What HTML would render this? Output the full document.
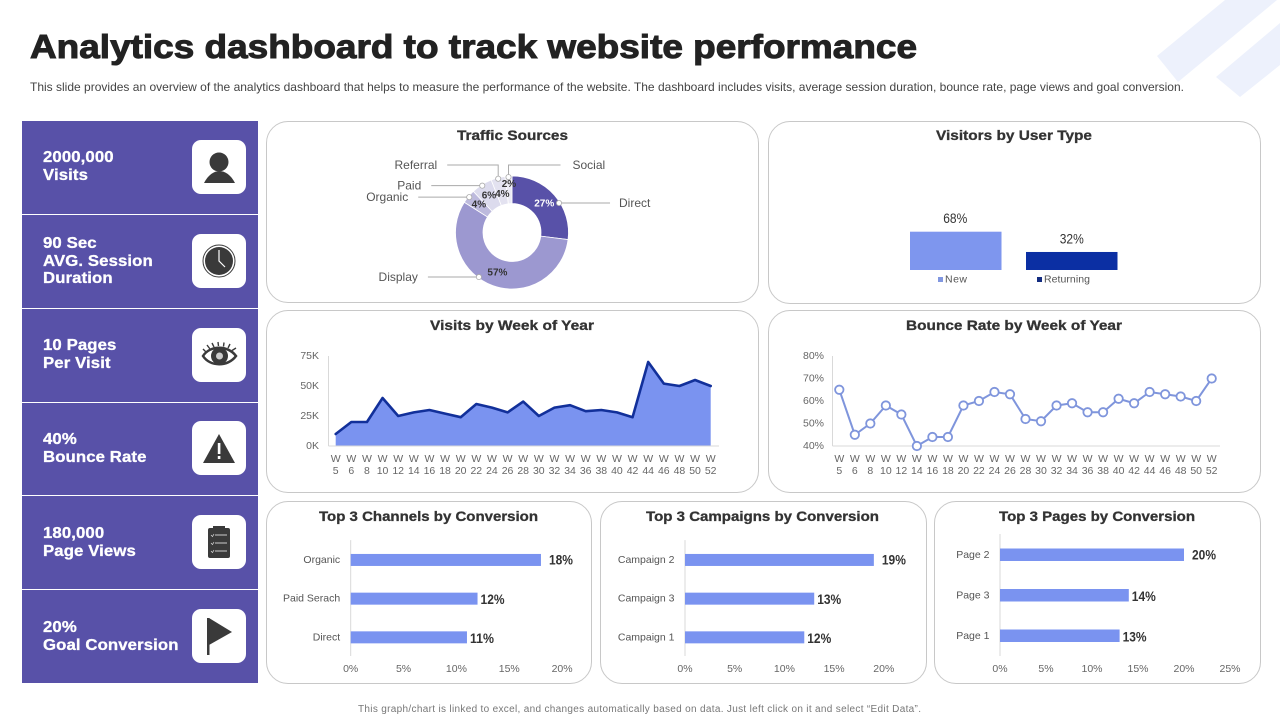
<!DOCTYPE html>
<html lang="en">
<head>
<meta charset="utf-8">
<title>Analytics dashboard to track website performance</title>
<style>
html,body{margin:0;padding:0;background:#fff;}
#page{position:relative;width:1280px;height:720px;overflow:hidden;background:#fff;font-family:"Liberation Sans",sans-serif;}
.panel{position:absolute;box-sizing:border-box;border:1px solid #c8c8c8;border-radius:22px;background:#fff;}
.tile{position:absolute;left:22px;width:236px;background:#5851a8;}
.kpi{position:absolute;left:21px;color:#fff;font-weight:bold;font-size:15.5px;line-height:17.5px;letter-spacing:.1px;-webkit-text-stroke:.3px #fff;white-space:nowrap;transform:scaleX(1.08);transform-origin:left top;}
.icon{position:absolute;left:170px;width:54px;height:54px;background:#fff;border-radius:9px;}
.icon svg{display:block;}
#charts{position:absolute;left:0;top:0;}
#charts text{font-family:"Liberation Sans",sans-serif;}
</style>
</head>
<body>
<div id="page">
  <div class="panel" style="left:266px;top:121px;width:493px;height:182px"></div>
  <div class="panel" style="left:768px;top:121px;width:493px;height:183px"></div>
  <div class="panel" style="left:266px;top:310px;width:493px;height:183px"></div>
  <div class="panel" style="left:768px;top:310px;width:493px;height:183px"></div>
  <div class="panel" style="left:266px;top:501px;width:326px;height:183px"></div>
  <div class="panel" style="left:600px;top:501px;width:327px;height:183px"></div>
  <div class="panel" style="left:934px;top:501px;width:327px;height:183px"></div>

  <div class="tile" style="top:121px;height:93px">
    <div class="kpi" style="top:28px">2000,000<br>Visits</div>
    <div class="icon" style="top:19px">
      <svg width="54" height="54" viewBox="0 0 54 54"><circle cx="27" cy="22" r="9.5" fill="#3a3a3a"/><path d="M12 43 C16 35 22 31 27.500 31 C33 31 39 35 43 43 Z" fill="#3a3a3a"/></svg>
    </div>
  </div>
  <div class="tile" style="top:215px;height:93px">
    <div class="kpi" style="top:20px">90 Sec<br>AVG. Session<br>Duration</div>
    <div class="icon" style="top:19px">
      <svg width="54" height="54" viewBox="0 0 54 54"><circle cx="27" cy="27" r="16" fill="#fff" stroke="#3a3a3a" stroke-width="1"/><circle cx="27" cy="27" r="14" fill="#3a3a3a"/><path d="M27 16 V27 L33 33" fill="none" stroke="#fff" stroke-width="1.2"/></svg>
    </div>
  </div>
  <div class="tile" style="top:309px;height:93px">
    <div class="kpi" style="top:28px">10 Pages<br>Per Visit</div>
    <div class="icon" style="top:19px">
      <svg width="54" height="54" viewBox="0 0 54 54"><path d="M11 28 C18 17 36 17 44 28 C36 39 18 39 11 28 Z" fill="#fff" stroke="#3a3a3a" stroke-width="2.500"/><circle cx="27.500" cy="28" r="8.500" fill="#3a3a3a"/><circle cx="27.500" cy="28" r="3.500" fill="#ccc"/><path d="M11 21 L14 24 M15 17 L18 21 M20 15 L22 19 M26 14 L26.500 18 M32 14.500 L31.500 18.500 M38 16 L36 20 M44 20 L40 22.500" stroke="#3a3a3a" stroke-width="1.400"/></svg>
    </div>
  </div>
  <div class="tile" style="top:403px;height:92px">
    <div class="kpi" style="top:28px">40%<br>Bounce Rate</div>
    <div class="icon" style="top:18px">
      <svg width="54" height="54" viewBox="0 0 54 54"><path d="M27 13 L43 42 H11 Z" fill="#3a3a3a"/><rect x="25.800" y="22" width="2.600" height="11" fill="#fff"/><rect x="25.800" y="35" width="2.600" height="3" fill="#fff"/></svg>
    </div>
  </div>
  <div class="tile" style="top:496px;height:93px">
    <div class="kpi" style="top:29px">180,000<br>Page Views</div>
    <div class="icon" style="top:19px">
      <svg width="54" height="54" viewBox="0 0 54 54"><rect x="16" y="13" width="22" height="30" rx="2" fill="#3a3a3a"/><rect x="21" y="11" width="12" height="3" fill="#3a3a3a"/><path d="M23 20 H35 M23 28 H35 M23 36 H35" stroke="#ccc" stroke-width="1"/><path d="M19 20 L20.500 21.500 L22 19 M19 28 L20.500 29.500 L22 27 M19 36 L20.500 37.500 L22 35" fill="none" stroke="#ddd" stroke-width=".7"/></svg>
    </div>
  </div>
  <div class="tile" style="top:590px;height:93px">
    <div class="kpi" style="top:29px">20%<br>Goal Conversion</div>
    <div class="icon" style="top:19px">
      <svg width="54" height="54" viewBox="0 0 54 54"><rect x="15" y="9" width="2.500" height="37" fill="#3a3a3a"/><path d="M17 9 L40 23 L17 36 Z" fill="#3a3a3a"/></svg>
    </div>
  </div>

  <svg id="charts" width="1280" height="720" viewBox="0 0 1280 720">
    <polygon points="1157,56 1178,82 1277,0 1225,0" fill="#edf1fc"/>
    <polygon points="1216,77 1240,97 1280,65 1280,23" fill="#edf1fc"/>
    <text x="30" y="58" font-size="33.500" font-weight="bold" fill="#222" stroke="#222" stroke-width="1" textLength="887" lengthAdjust="spacingAndGlyphs">Analytics dashboard to track website performance</text>
    <text x="30" y="91" font-size="12" fill="#444" textLength="1154">This slide provides an overview of the analytics dashboard that helps to measure the performance of the website. The dashboard includes visits, average session duration, bounce rate, page views and goal conversion.</text>
    <text x="358" y="712" font-size="10" fill="#777" textLength="563">This graph/chart is linked to excel, and changes automatically based on data. Just left click on it and select “Edit Data”.</text>
    <text x="457" y="140" font-size="14" font-weight="bold" fill="#333" stroke="#333" stroke-width=".3" textLength="111" lengthAdjust="spacingAndGlyphs">Traffic Sources</text>
    <text x="936" y="140" font-size="14" font-weight="bold" fill="#333" stroke="#333" stroke-width=".3" textLength="156" lengthAdjust="spacingAndGlyphs">Visitors by User Type</text>
    <text x="430" y="330" font-size="14" font-weight="bold" fill="#333" stroke="#333" stroke-width=".3" textLength="164" lengthAdjust="spacingAndGlyphs">Visits by Week of Year</text>
    <text x="906" y="330" font-size="14" font-weight="bold" fill="#333" stroke="#333" stroke-width=".3" textLength="216" lengthAdjust="spacingAndGlyphs">Bounce Rate by Week of Year</text>
    <text x="319" y="521" font-size="14" font-weight="bold" fill="#333" stroke="#333" stroke-width=".3" textLength="219" lengthAdjust="spacingAndGlyphs">Top 3 Channels by Conversion</text>
    <text x="646" y="521" font-size="14" font-weight="bold" fill="#333" stroke="#333" stroke-width=".3" textLength="233" lengthAdjust="spacingAndGlyphs">Top 3 Campaigns by Conversion</text>
    <text x="999" y="521" font-size="14" font-weight="bold" fill="#333" stroke="#333" stroke-width=".3" textLength="196" lengthAdjust="spacingAndGlyphs">Top 3 Pages by Conversion</text>
    <g id="traffic-chart"></g>
    <g id="visitors-chart"></g>
    <g id="visits-chart"></g>
    <g id="bounce-chart"></g>
    <g id="channels-chart"></g>
    <g id="campaigns-chart"></g>
    <g id="pages-chart"></g>
  </svg>
</div>

<script>
const trafficCategories = ['Direct', 'Display', 'Organic', 'Paid', 'Referral', 'Social'];
const trafficValues = [27, 57, 4, 6, 4, 2];
const userTypeCategories = ['New', 'Returning'];
const userTypeValues = [68, 32];
const weekLabels = ['5', '6', '8', '10', '12', '14', '16', '18', '20', '22', '24', '26', '28', '30', '32', '34', '36', '38', '40', '42', '44', '46', '48', '50', '52'];
const visitsValues = [10, 20, 20, 40, 25, 28, 30, 27, 24, 35, 32, 28, 37, 25, 32, 34, 29, 30, 28, 24, 70, 52, 50, 55, 50];
const visitsTicks = [0, 25, 50, 75];
const bounceValues = [65, 45, 50, 58, 54, 40, 44, 44, 58, 60, 64, 63, 52, 51, 58, 59, 55, 55, 61, 59, 64, 63, 62, 60, 70];
const bounceTicks = [40, 50, 60, 70, 80];
const channelCategories = ['Organic', 'Paid Serach', 'Direct'];
const channelValues = [18, 12, 11];
const channelTicks = [0, 5, 10, 15, 20];
const campaignCategories = ['Campaign 2', 'Campaign 3', 'Campaign 1'];
const campaignValues = [19, 13, 12];
const campaignTicks = [0, 5, 10, 15, 20];
const pageCategories = ['Page 2', 'Page 3', 'Page 1'];
const pageValues = [20, 14, 13];
const pageTicks = [0, 5, 10, 15, 20, 25];

const SVG_NS = 'http://www.w3.org/2000/svg';
function make(parent, tag, attrs, content) {
  const node = document.createElementNS(SVG_NS, tag);
  for (const key in attrs) node.setAttribute(key, attrs[key]);
  if (content !== undefined) node.textContent = content;
  parent.appendChild(node);
  return node;
}
function addText(parent, name, x, y, content, size, fill, anchor, weight) {
  const t = make(parent, 'text', {x: x, y: y, 'font-size': size, fill: fill, 'text-anchor': anchor || 'start', 'font-weight': weight || 'normal', 'dominant-baseline': 'central'}, content);
  
  
  return t;
}
function squeeze(t, width) {
  t.setAttribute('textLength', width);
  t.setAttribute('lengthAdjust', 'spacingAndGlyphs');
}

/* Traffic donut */
(function () {
  const g = document.getElementById('traffic-chart');
  const cx = 512, cy = 232.5, rOut = 56.5, rIn = 29;
  const colors = ['#5851a8', '#9c98d0', '#bdbadd', '#dcdbed', '#e3e2f0', '#ecebf5'];
  const total = trafficValues.reduce(function (a, b) { return a + b; }, 0);
  const angle = function (v) { return v / total * 2 * Math.PI; };
  const point = function (a, r) { return [cx + r * Math.sin(a), cy - r * Math.cos(a)]; };
  const dotShift = {Direct: 9.3, Display: 16.8};
  const labelRadius = {Referral: 39, Social: 48};
  let running = 0;
  trafficValues.forEach(function (v, i) {
    const a0 = angle(running), a1 = angle(running + v);
    running += v;
    const large = a1 - a0 > Math.PI ? 1 : 0;
    const p0 = point(a0, rOut), p1 = point(a1, rOut), p2 = point(a1, rIn), p3 = point(a0, rIn);
    const slice = make(g, 'path', {d: 'M' + p0 + ' A' + rOut + ' ' + rOut + ' 0 ' + large + ' 1 ' + p1 + ' L' + p2 + ' A' + rIn + ' ' + rIn + ' 0 ' + large + ' 0 ' + p3 + ' Z', fill: colors[i], stroke: '#fff', 'stroke-width': 0.8});
    
    
  });
  running = 0;
  trafficValues.forEach(function (v, i) {
    const name = trafficCategories[i];
    const mid = angle(running + v / 2);
    running += v;
    const lp = point(mid, labelRadius[name] || 43);
    addText(g, 'value-label-' + name.toLowerCase(), lp[0], lp[1], v + '%', 10, i === 0 ? '#fff' : '#333', 'middle', 'bold');
    const d = point(mid + (dotShift[name] || 0) * Math.PI / 180, 55.5);
    let pts, tx, ty = d[1], anchor;
    if (name === 'Referral') {
      pts = [[d[0], d[1]], [d[0], 165], [d[0] - 51, 165]]; tx = d[0] - 61; ty = 165; anchor = 'end';
    } else if (name === 'Social') {
      pts = [[d[0], d[1]], [d[0], 165], [d[0] + 52, 165]]; tx = d[0] + 64; ty = 165; anchor = 'start';
    } else if (name === 'Direct') {
      pts = [[d[0], d[1]], [d[0] + 51, d[1]]]; tx = d[0] + 60; anchor = 'start';
    } else {
      pts = [[d[0], d[1]], [d[0] - 51, d[1]]]; tx = d[0] - 61; anchor = 'end';
    }
    const leader = make(g, 'polyline', {points: pts.join(' '), fill: 'none', stroke: '#aaa', 'stroke-width': 1});
    
    
    const dot = make(g, 'circle', {cx: d[0], cy: d[1], r: 2.6, fill: '#fff', stroke: '#aaa', 'stroke-width': 0.8});
    
    
    addText(g, 'category-label-' + name.toLowerCase(), tx, ty, name, 12, '#555', anchor);
  });
})();

/* Visitors by user type */
(function () {
  const g = document.getElementById('visitors-chart');
  const base = 270, barW = 91.5;
  const xBar = function (i) { return 910 + i * 116; };
  const h = function (v) { return v * 0.5633; };
  const colors = ['#7e96ee', '#0b2fa3'];
  const legendColors = ['#8197e0', '#132c80'];
  userTypeValues.forEach(function (v, i) {
    const bar = make(g, 'rect', {x: xBar(i), y: base - h(v), width: barW, height: h(v), fill: colors[i]});
    
    
    const vl = addText(g, 'value-label-' + userTypeCategories[i].toLowerCase(), xBar(i) + barW / 2 - (i === 0 ? 0.5 : 0), base - h(v) - 13, v + '%', 13.5, '#333', 'middle');
    squeeze(vl, 24);
    const lx = xBar(i) + (i === 0 ? 28 : 11);
    const sw = make(g, 'rect', {x: lx, y: 277, width: 5, height: 5, fill: legendColors[i]});
    
    
    const t = addText(g, 'legend-label-' + userTypeCategories[i].toLowerCase(), lx + 7, 279.5, userTypeCategories[i], 10.5, '#555');
    t.setAttribute('letter-spacing', i === 0 ? '.5' : '.05');
  });
})();

function addWeekLabels(g, xFn, prefix) {
  weekLabels.forEach(function (w, i) {
    addText(g, prefix + '-tick-w-' + w, xFn(i), 459, 'W', 10.5, '#666', 'middle');
    addText(g, prefix + '-tick-num-' + w, xFn(i), 471, w, 10.5, '#666', 'middle');
  });
}

/* Visits area */
(function () {
  const g = document.getElementById('visits-chart');
  const x = function (i) { return 335.7 + i * (375 / (visitsValues.length - 1)); };
  const y = function (v) { return 446 - v / 75 * 90; };
  const pts = visitsValues.map(function (v, i) { return x(i) + ',' + y(v); });
  const area = make(g, 'polygon', {points: x(0) + ',' + y(0) + ' ' + pts.join(' ') + ' ' + x(visitsValues.length - 1) + ',' + y(0), fill: '#7a93f0'});
  
  
  const axisY = make(g, 'line', {x1: 328.5, y1: 356, x2: 328.5, y2: 446, stroke: '#d9d9d9', 'stroke-width': 1});
  
  
  const axisX = make(g, 'line', {x1: 328.5, y1: 446, x2: 719, y2: 446, stroke: '#d9d9d9', 'stroke-width': 1});
  
  
  const line = make(g, 'polyline', {points: pts.join(' '), fill: 'none', stroke: '#12309a', 'stroke-width': 2.6, 'stroke-linejoin': 'round', 'stroke-linecap': 'round'});
  
  
  visitsTicks.forEach(function (t) {
    addText(g, 'visits-y-tick-' + t, 319, y(t), t + 'K', 10.5, '#666', 'end');
  });
  addWeekLabels(g, x, 'visits');
})();

/* Bounce rate line */
(function () {
  const g = document.getElementById('bounce-chart');
  const x = function (i) { return 839.3 + i * (372.4 / (bounceValues.length - 1)); };
  const y = function (v) { return 446 - (v - 40) / 40 * 90; };
  const axisY = make(g, 'line', {x1: 832.5, y1: 356, x2: 832.5, y2: 446, stroke: '#d9d9d9', 'stroke-width': 1});
  
  
  const axisX = make(g, 'line', {x1: 832.5, y1: 446, x2: 1220, y2: 446, stroke: '#d9d9d9', 'stroke-width': 1});
  
  
  const line = make(g, 'polyline', {points: bounceValues.map(function (v, i) { return x(i) + ',' + y(v); }).join(' '), fill: 'none', stroke: '#7f95dc', 'stroke-width': 2});
  
  
  bounceValues.forEach(function (v, i) {
    const c = make(g, 'circle', {cx: x(i), cy: y(v), r: 4.2, fill: '#fff', stroke: '#7f95dc', 'stroke-width': 1.8});
    
    
  });
  bounceTicks.forEach(function (t) {
    addText(g, 'bounce-y-tick-' + t, 824, y(t), t + '%', 10.5, '#666', 'end');
  });
  addWeekLabels(g, x, 'bounce');
})();

/* Horizontal bars */
function drawHBars(id, prefix, categories, values, ticks, x0, pxPerUnit, top, band, barH) {
  const g = document.getElementById(id);
  const x = function (v) { return x0 + v * pxPerUnit; };
  const yc = function (i) { return top + (i + 0.5) * band; };
  const axis = make(g, 'line', {x1: x0, y1: top - 0.5, x2: x0, y2: 656, stroke: '#d9d9d9', 'stroke-width': 1});
  
  
  values.forEach(function (v, i) {
    const bar = make(g, 'rect', {x: x0, y: yc(i) - barH / 2, width: x(v) - x0, height: barH, fill: '#7a93f0'});
    
    
    addText(g, prefix + '-category-label-' + i, x0 - 10.5, yc(i), categories[i], 10.5, '#555', 'end');
    const vl = addText(g, prefix + '-value-label-' + i, x(v) + (i === 0 ? 8 : 3), yc(i) + (i === 0 ? 0 : 1), v + '%', 13.5, '#333', 'start', 'bold');
    squeeze(vl, 24);
  });
  ticks.forEach(function (t) {
    addText(g, prefix + '-x-tick-' + t, x(t), 669, t + '%', 10.5, '#666', 'middle');
  });
}
drawHBars('channels-chart', 'channels', channelCategories, channelValues, channelTicks, 350.7, 10.57, 540.6, 38.7, 12);
drawHBars('campaigns-chart', 'campaigns', campaignCategories, campaignValues, campaignTicks, 685, 9.94, 540.6, 38.7, 12);
drawHBars('pages-chart', 'pages', pageCategories, pageValues, pageTicks, 1000, 9.2, 534.5, 40.5, 12.5);
</script>
</body>
</html>
